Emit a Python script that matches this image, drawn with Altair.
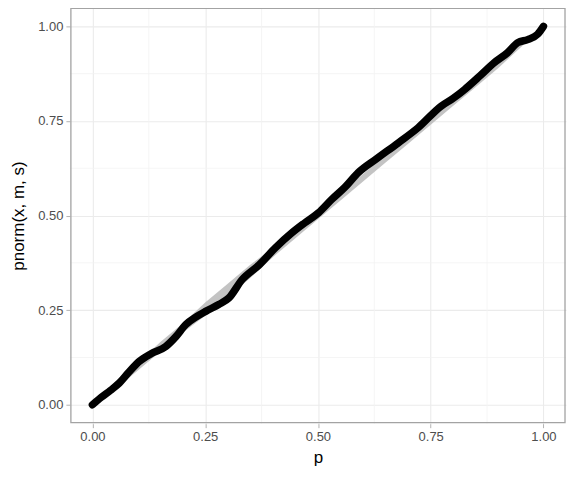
import altair as alt
import pandas as pd

# black observed P-P curve (p, pnorm(x, m, s))
obs_p = [0.0, 0.02, 0.04, 0.0596, 0.08, 0.1038, 0.13, 0.1626, 0.185, 0.2068, 0.23, 0.251, 0.28, 0.3024,
         0.3318, 0.37, 0.4055, 0.442, 0.47, 0.501, 0.530, 0.56, 0.589, 0.63, 0.678, 0.722, 0.773,
         0.80, 0.825, 0.86, 0.891, 0.92, 0.943, 0.965, 0.987, 1.0]
obs_y = [0.0, 0.02, 0.038, 0.0574, 0.085, 0.1146, 0.135, 0.154, 0.18, 0.2116, 0.232, 0.2468, 0.265, 0.282,
         0.3307, 0.37, 0.4145, 0.454, 0.48, 0.507, 0.542, 0.575, 0.613, 0.65, 0.692, 0.732, 0.789,
         0.81, 0.833, 0.87, 0.904, 0.93, 0.957, 0.965, 0.979, 1.0]

# gray simulation envelope
band_p = [0, 0.05, 0.1, 0.15, 0.2, 0.25, 0.3, 0.35, 0.4, 0.45, 0.5, 0.55, 0.6, 0.65, 0.7, 0.75,
          0.8, 0.85, 0.9, 0.95, 1]
band_lo = [0, 0.04, 0.09, 0.14, 0.19, 0.235, 0.285, 0.335, 0.39, 0.44, 0.49, 0.54, 0.59, 0.64,
           0.69, 0.74, 0.79, 0.84, 0.89, 0.945, 1]
band_hi = [0, 0.06, 0.11, 0.165, 0.215, 0.27, 0.32, 0.37, 0.415, 0.465, 0.51, 0.56, 0.61, 0.66,
           0.71, 0.76, 0.81, 0.86, 0.91, 0.955, 1]

major_ticks = [0, 0.25, 0.5, 0.75, 1.0]
minor_ticks = [0.125, 0.375, 0.625, 0.875]

W, H = 497, 417

obs = pd.DataFrame({"p": obs_p, "y": obs_y})
band = pd.DataFrame({"p": band_p, "lo": band_lo, "hi": band_hi})
minor = pd.DataFrame({"v": minor_ticks})
one = pd.DataFrame({"k": [0]})

xs = alt.Scale(domain=[-0.05, 1.05], nice=False, zero=False)
ys = alt.Scale(domain=[-0.05, 1.05], nice=False, zero=False)

axis_common = dict(values=major_ticks, format=".2f", gridColor="#ebebeb", gridWidth=1.1,
                   domain=False, tickColor="#b3b3b3", tickSize=4, labelColor="#4d4d4d",
                   labelFontSize=13, labelFont="Liberation Sans", titleFont="Liberation Sans",
                   titleFontSize=17, titleFontWeight="normal", titleColor="black", labelPadding=3)

minor_x = alt.Chart(minor).mark_rule(color="#f2f2f2", strokeWidth=0.8).encode(x=alt.X("v:Q", scale=xs))
minor_y = alt.Chart(minor).mark_rule(color="#f2f2f2", strokeWidth=0.8).encode(y=alt.Y("v:Q", scale=ys))

area = alt.Chart(band).mark_area(color="#bdbdbd", opacity=0.9).encode(
    x=alt.X("p:Q", scale=xs, title="p", axis=alt.Axis(**axis_common, titlePadding=6)),
    y=alt.Y("lo:Q", scale=ys, title="pnorm(x, m, s)", axis=alt.Axis(**axis_common, titlePadding=10)),
    y2="hi:Q",
)

line = alt.Chart(obs).mark_line(color="black", strokeWidth=7.5, strokeCap="round",
                                strokeJoin="round", interpolate="monotone").encode(
    x=alt.X("p:Q", scale=xs), y=alt.Y("y:Q", scale=ys))

border = alt.Chart(one).mark_rect(fill="transparent", stroke="#a3a3a3", strokeWidth=1.3).encode(
    x=alt.value(1), x2=alt.value(W - 1), y=alt.value(1), y2=alt.value(H - 1))

chart = alt.layer(minor_x, minor_y, area, line, border).properties(
    width=W, height=H,
    background="white",
    autosize=alt.AutoSizeParams(type="none"),
    padding={"left": 62, "top": -1, "right": 2, "bottom": 55},
).configure_view(strokeWidth=0)

chart.save("out.html", embed_options={"renderer": "svg", "actions": False})
